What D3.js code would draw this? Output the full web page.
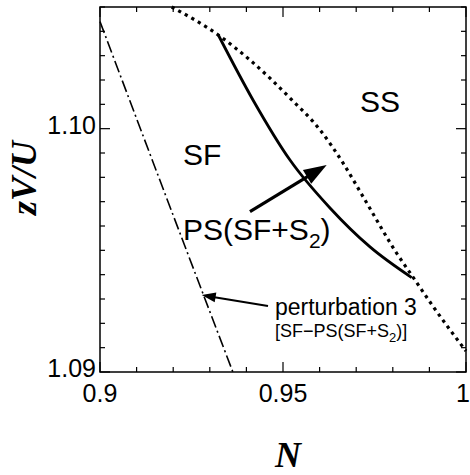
<!DOCTYPE html>
<html>
<head>
<meta charset="utf-8">
<script src="https://cdn.jsdelivr.net/npm/d3@7"></script>
<style>
  html, body { margin: 0; padding: 0; background: #fff; }
  svg { display: block; }
  text { font-family: "Liberation Sans", Arial, sans-serif; fill: #000; }
</style>
</head>
<body>
<svg id="chart" width="470" height="475"></svg>
<script>
// Phase boundaries in the (N, zV/U) plane
const perturbationN = [0.9, 0.9180, 0.9363];
const perturbationV = [1.1044, 1.09723, 1.0900];

const psBoundaryN = [0.93232, 0.94180, 0.95191, 0.96284, 0.97377, 0.98516];
const psBoundaryV = [1.10385, 1.10118, 1.09871, 1.09674, 1.09514, 1.09388];

const ssBoundaryN = [0.91959, 0.93232, 0.94098, 0.95191, 0.96011, 0.96639, 0.97240, 0.98106, 0.98552, 0.99107, 1.0];
const ssBoundaryV = [1.10500, 1.10385, 1.10282, 1.10126, 1.09995, 1.09859, 1.09707, 1.09488, 1.09390, 1.09268, 1.09086];

// Axis ticks
const xMajor = [0.9, 0.95, 1.0];
const xTickLabels = ["0.9", "0.95", "1"];
const yMajor = [1.09, 1.10];
const yTickLabels = ["1.09", "1.10"];

const margin = { left: 100, right: 4, top: 7, bottom: 103 };
const W = 470, H = 475;
const svg = d3.select("#chart");

const x = d3.scaleLinear().domain([0.9, 1.0]).range([margin.left, W - margin.right]);
const y = d3.scaleLinear().domain([1.09, 1.105]).range([H - margin.bottom, margin.top]);

const x0 = x.range()[0], x1 = x.range()[1];
const yb = y.range()[0], yt = y.range()[1];

// Inward ticks on all four sides
const xMinor = d3.range(0, 11).map(i => +(0.9 + i * 0.01).toFixed(3));
const yMinor = d3.range(0, 16).map(i => +(1.09 + i * 0.001).toFixed(4));
const isMajor = (v, arr) => arr.some(m => Math.abs(m - v) < 1e-9);

const ticks = svg.append("g").attr("stroke", "#000").attr("stroke-width", 1.2);
xMinor.forEach(v => {
  const L = isMajor(v, xMajor) ? 10 : 5;
  ticks.append("line").attr("x1", x(v)).attr("x2", x(v)).attr("y1", yb).attr("y2", yb - L);
  ticks.append("line").attr("x1", x(v)).attr("x2", x(v)).attr("y1", yt).attr("y2", yt + L);
});
yMinor.forEach(v => {
  const L = isMajor(v, yMajor) ? 10 : 5;
  ticks.append("line").attr("x1", x0).attr("x2", x0 + L).attr("y1", y(v)).attr("y2", y(v));
  ticks.append("line").attr("x1", x1).attr("x2", x1 - L).attr("y1", y(v)).attr("y2", y(v));
});

// Frame
svg.append("rect")
  .attr("x", x0).attr("y", yt).attr("width", x1 - x0).attr("height", yb - yt)
  .attr("fill", "none").attr("stroke", "#000").attr("stroke-width", 1.5);

// Tick labels (the last one is end-anchored so it stays inside the page)
svg.append("g").selectAll("text").data(xMajor).join("text")
  .attr("x", (d, i) => i === xMajor.length - 1 ? W : x(d))
  .attr("y", yb + 30)
  .attr("text-anchor", (d, i) => i === xMajor.length - 1 ? "end" : "middle")
  .attr("font-size", 25)
  .text((d, i) => xTickLabels[i]);
svg.append("g").selectAll("text").data(yMajor).join("text")
  .attr("x", x0 - 4).attr("y", d => y(d) + 5)
  .attr("text-anchor", "end").attr("font-size", 25)
  .text((d, i) => yTickLabels[i]);

// Axis titles
svg.append("text")
  .attr("x", 288).attr("y", 467).attr("text-anchor", "middle")
  .style("font-family", "'Liberation Serif', 'Times New Roman', serif")
  .attr("font-size", 36).attr("font-weight", "bold").attr("font-style", "italic")
  .text("N");
svg.append("text")
  .attr("transform", "translate(36,178) rotate(-90)").attr("text-anchor", "middle")
  .style("font-family", "'Liberation Serif', 'Times New Roman', serif")
  .attr("font-size", 36).attr("font-weight", "bold").attr("font-style", "italic")
  .text("zV/U");

// Curves
const line = d3.line().x(d => x(d[0])).y(d => y(d[1])).curve(d3.curveMonotoneX);
const plot = svg.append("g");

plot.append("path")
  .attr("d", line(d3.zip(perturbationN, perturbationV)))
  .attr("fill", "none").attr("stroke", "#000").attr("stroke-width", 1.6)
  .attr("stroke-dasharray", "12,3.5,2,3.5");

plot.append("path")
  .attr("d", line(d3.zip(ssBoundaryN, ssBoundaryV)))
  .attr("fill", "none").attr("stroke", "#000").attr("stroke-width", 3.2)
  .attr("stroke-dasharray", "3.2,4.3");

plot.append("path")
  .attr("d", line(d3.zip(psBoundaryN, psBoundaryV)))
  .attr("fill", "none").attr("stroke", "#000").attr("stroke-width", 2.8);

// Arrows
function arrow(tail, tip, width, headLen, headHalf) {
  const [ax, ay] = [x(tail[0]), y(tail[1])];
  const [bx, by] = [x(tip[0]), y(tip[1])];
  const ang = Math.atan2(by - ay, bx - ax);
  const cx = bx - headLen * Math.cos(ang), cy = by - headLen * Math.sin(ang);
  plot.append("line").attr("x1", ax).attr("y1", ay).attr("x2", cx + Math.cos(ang)).attr("y2", cy + Math.sin(ang))
    .attr("stroke", "#000").attr("stroke-width", width);
  const px = -Math.sin(ang) * headHalf, py = Math.cos(ang) * headHalf;
  plot.append("path")
    .attr("d", `M${bx},${by}L${cx + px},${cy + py}L${cx - px},${cy - py}Z`)
    .attr("fill", "#000");
}
arrow([0.94098, 1.09659], [0.96194, 1.09851], 3.2, 23, 8);
arrow([0.94590, 1.09271], [0.92779, 1.09316], 2, 14, 5);

// Region labels
const labels = svg.append("g");
labels.append("text").attr("x", x(0.97104)).attr("y", y(1.10068)).attr("font-size", 30).text("SS");
labels.append("text").attr("x", x(0.92268)).attr("y", y(1.09851)).attr("font-size", 30).text("SF");
const ps = labels.append("text").attr("x", x(0.92268)).attr("y", y(1.09542)).attr("font-size", 30);
ps.append("tspan").text("PS(SF+S");
ps.append("tspan").attr("font-size", 21).attr("dy", 8).text("2");
ps.append("tspan").attr("dy", -8).text(")");

labels.append("text").attr("x", x(0.94781)).attr("y", y(1.09234)).attr("font-size", 23).text("perturbation 3");
const br = labels.append("text").attr("x", x(0.94781)).attr("y", y(1.09144)).attr("font-size", 18);
br.append("tspan").text("[SF\u2212PS(SF+S");
br.append("tspan").attr("font-size", 13).attr("dy", 5).text("2");
br.append("tspan").attr("dy", -5).text(")]");
</script>
</body>
</html>
